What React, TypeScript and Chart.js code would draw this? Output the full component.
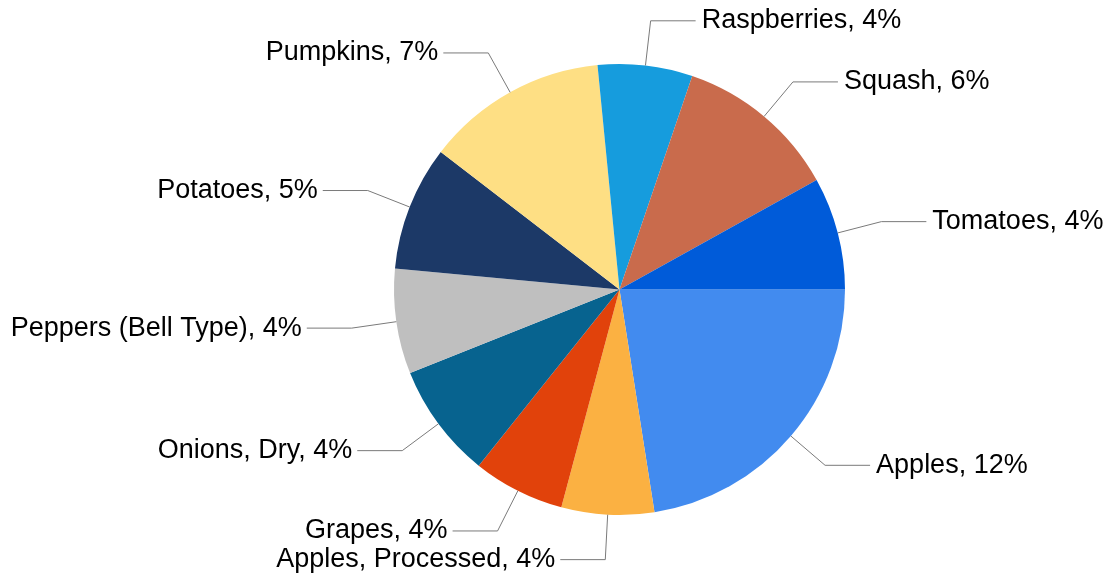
import React, { useEffect, useRef } from "react";
import { Chart, registerables } from "chart.js";

Chart.register(...registerables);

const categories = [
  "Apples",
  "Apples, Processed",
  "Grapes",
  "Onions, Dry",
  "Peppers (Bell Type)",
  "Potatoes",
  "Pumpkins",
  "Raspberries",
  "Squash",
  "Tomatoes",
];

const shareValues = [12.05, 3.55, 3.52, 4.4, 4.03, 4.79, 6.96, 3.63, 6.26, 4.32];

const sliceColors = [
  "#428bef",
  "#fbb142",
  "#e1420b",
  "#07638f",
  "#bfbfbf",
  "#1c3967",
  "#fedf84",
  "#169cdd",
  "#c96b4c",
  "#005bd9",
];

const labelPlugin = {
  id: "pieLabels",
  afterDatasetsDraw(chart: any) {
    const ctx = chart.ctx;
    const meta = chart.getDatasetMeta(0);
    const labels = chart.data.labels as string[];
    const data = chart.data.datasets[0].data as number[];
    ctx.save();
    ctx.font = "27px 'Liberation Sans', Arial, sans-serif";
    ctx.fillStyle = "#000000";
    ctx.strokeStyle = "#7a7a7a";
    ctx.lineWidth = 1;
    ctx.textBaseline = "alphabetic";
    meta.data.forEach((arc: any, i: number) => {
      const { x, y, startAngle, endAngle, outerRadius } = arc.getProps(
        ["x", "y", "startAngle", "endAngle", "outerRadius"],
        true
      );
      const mid = (startAngle + endAngle) / 2;
      const R = outerRadius + 45;
      const cosA = Math.cos(mid);
      const sinA = Math.sin(mid);
      const right = cosA >= 0;
      const sx = x + outerRadius * cosA;
      const sy = y + outerRadius * sinA;
      const ly = y + R * sinA;
      const dy = ly - y;
      const dx = Math.sqrt(Math.max(R * R - dy * dy, 0));
      const bx = right ? x + dx : x - dx;
      const ex = right ? bx + 45 : bx - 45;
      ctx.beginPath();
      ctx.moveTo(sx, sy);
      ctx.lineTo(bx, ly);
      ctx.lineTo(ex, ly);
      ctx.stroke();
      const text = `${labels[i]}, ${Math.round(data[i])}%`;
      ctx.textAlign = right ? "left" : "right";
      ctx.fillText(text, right ? ex + 6 : ex - 5, ly + 7.5);
    });
    ctx.restore();
  },
};

export default function App() {
  const canvasRef = useRef<HTMLCanvasElement | null>(null);

  useEffect(() => {
    document.body.style.margin = "0";
    if (!canvasRef.current) return;
    const chart = new Chart(canvasRef.current, {
      type: "pie",
      data: {
        labels: categories,
        datasets: [
          {
            data: shareValues,
            backgroundColor: sliceColors,
            borderWidth: 0,
            hoverOffset: 0,
          },
        ],
      },
      options: {
        responsive: true,
        maintainAspectRatio: false,
        animation: false,
        rotation: 90,
        layout: { padding: { left: 394, right: 262, top: 64, bottom: 63 } },
        plugins: {
          legend: { display: false },
          tooltip: { enabled: false },
        },
      },
      plugins: [labelPlugin],
    });
    return () => chart.destroy();
  }, []);

  return (
    <div style={{ position: "absolute", left: 0, top: 0, width: 1107, height: 578, background: "#fff" }}>
      <canvas ref={canvasRef} />
    </div>
  );
}
